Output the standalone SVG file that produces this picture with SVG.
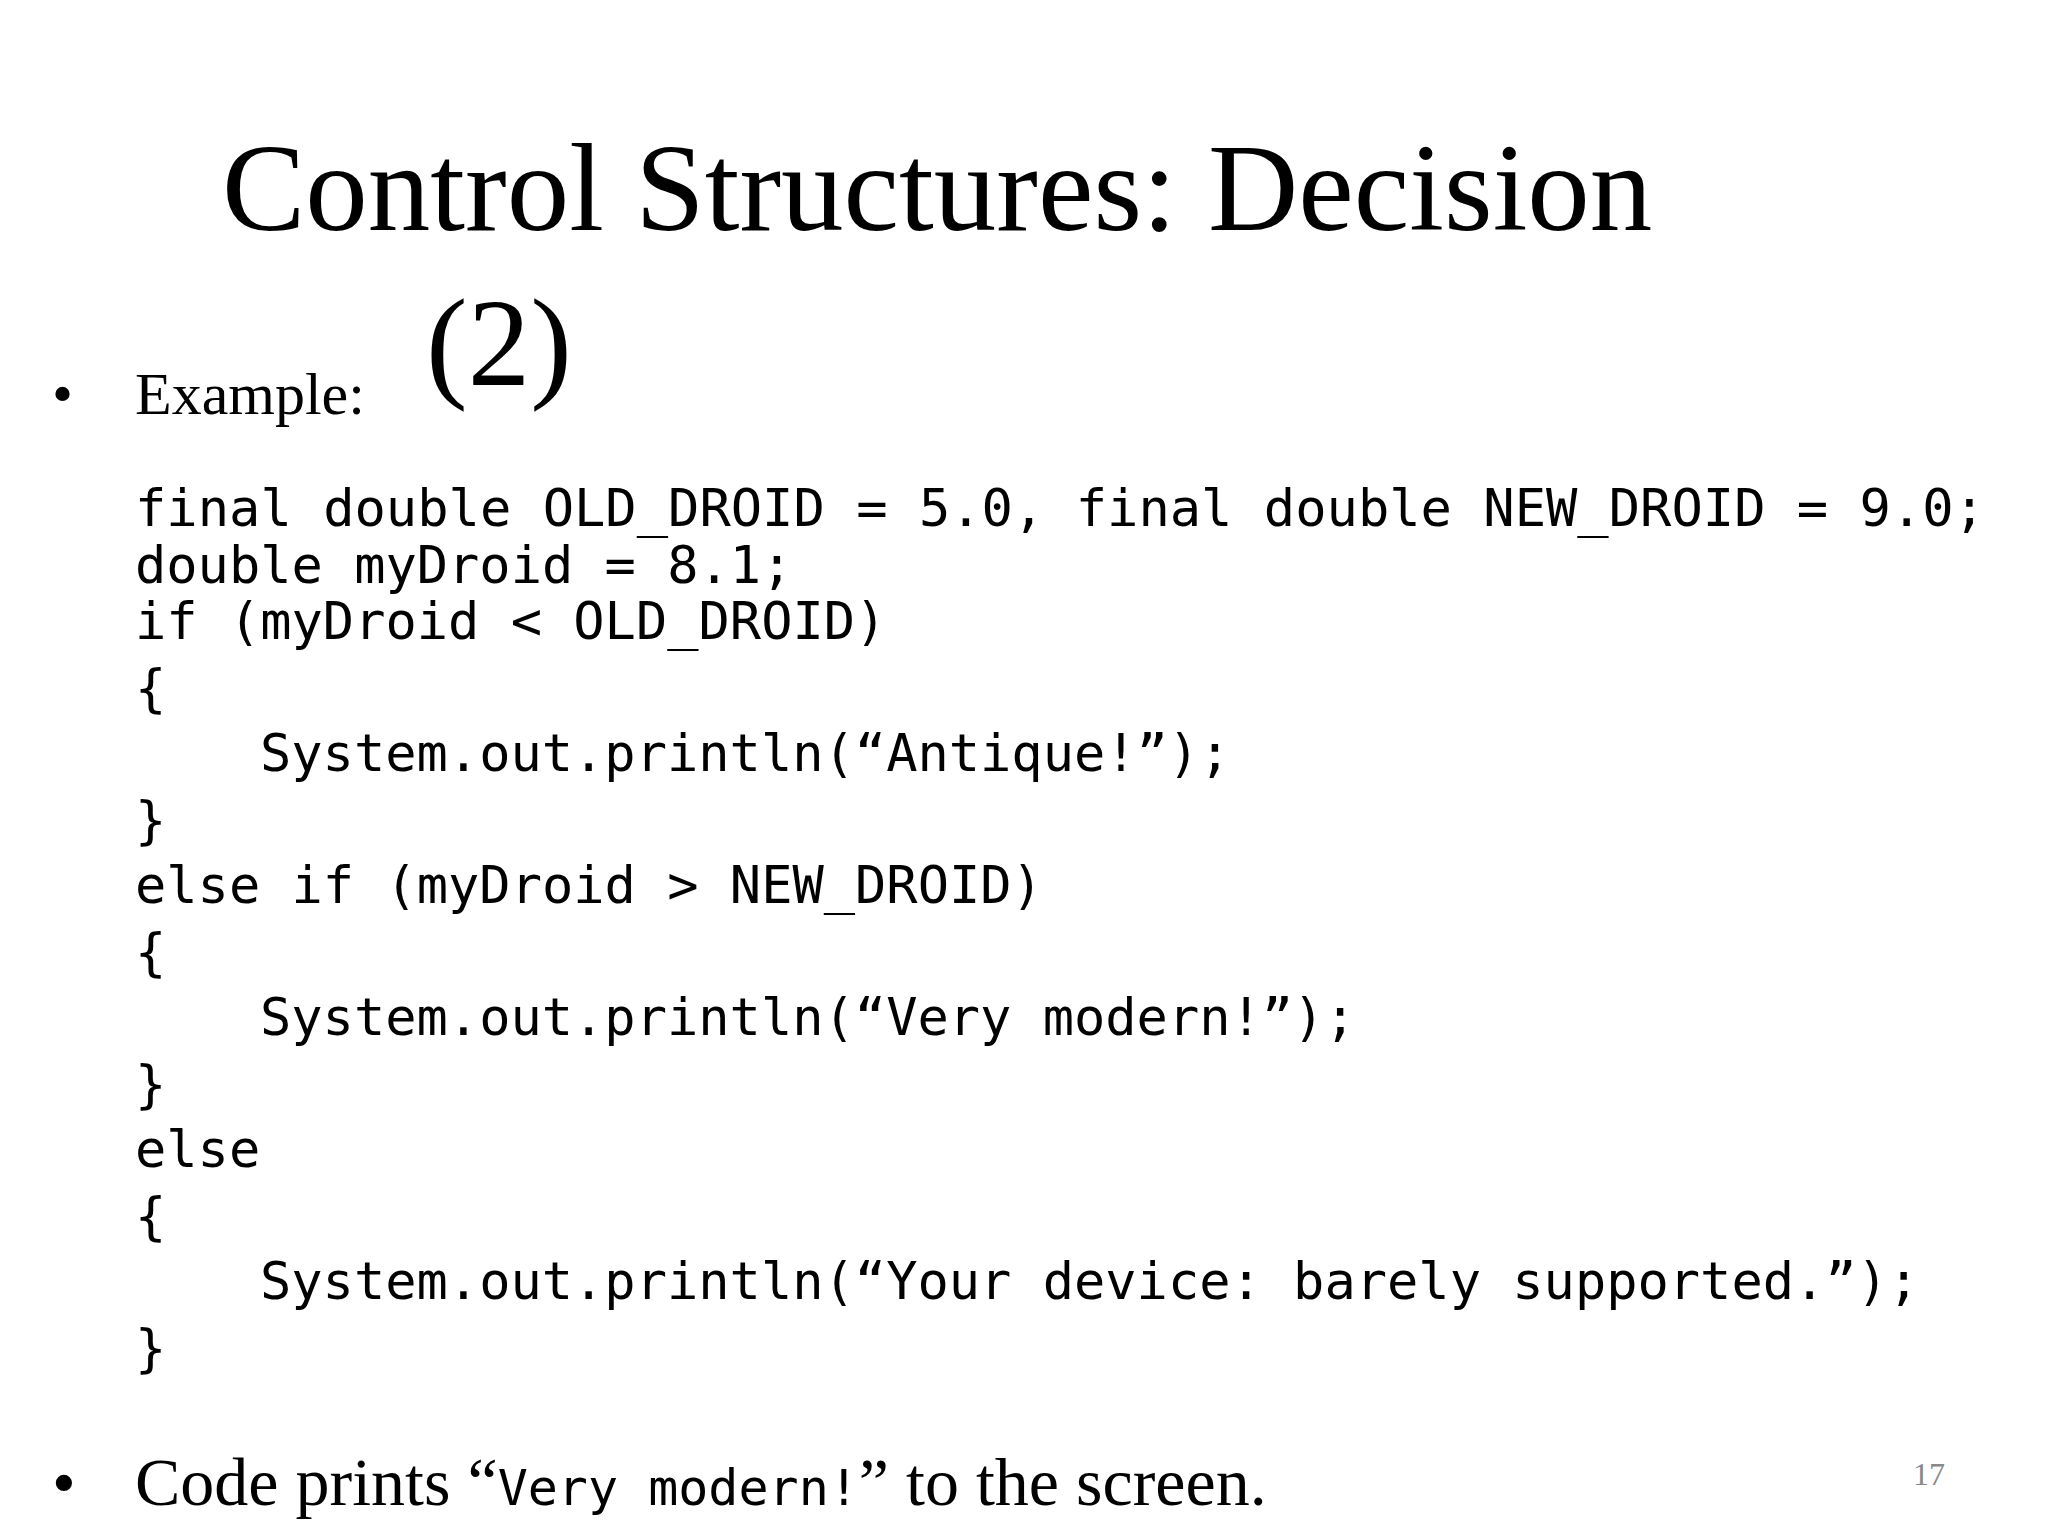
<svg xmlns="http://www.w3.org/2000/svg" width="2048" height="1536" viewBox="0 0 2048 1536">
<style>
.s{font-family:"Liberation Serif","Times New Roman",serif;fill:#000}
.m{font-family:"DejaVu Sans Mono","Liberation Mono",monospace;fill:#000;font-size:52px;white-space:pre}
</style>
<rect width="2048" height="1536" fill="#fff"/>
<g id="title">
<text class="s" x="222" y="230" font-size="125">Control Structures: Decision</text>
<text class="s" x="426" y="385" font-size="125">(2)</text>
</g>
<g id="example">
<text class="s" x="52" y="414" font-size="60">•</text>
<text class="s" x="135" y="414" font-size="60">Example:</text>
</g>
<g id="code">
<text class="m" x="135" y="526" textLength="1850" lengthAdjust="spacingAndGlyphs">final double OLD_DROID = 5.0, final double NEW_DROID = 9.0;</text>
<text class="m" x="135" y="583">double myDroid = 8.1;</text>
<text class="m" x="135" y="639">if (myDroid &lt; OLD_DROID)</text>
<text class="m" x="135" y="706">{</text>
<text class="m" x="260" y="771">System.out.println(“Antique!”);</text>
<text class="m" x="135" y="838">}</text>
<text class="m" x="135" y="903">else if (myDroid &gt; NEW_DROID)</text>
<text class="m" x="135" y="970">{</text>
<text class="m" x="260" y="1035">System.out.println(“Very modern!”);</text>
<text class="m" x="135" y="1102">}</text>
<text class="m" x="135" y="1167">else</text>
<text class="m" x="135" y="1234">{</text>
<text class="m" x="260" y="1299">System.out.println(“Your device: barely supported.”);</text>
<text class="m" x="135" y="1366">}</text>
</g>
<g id="result">
<text class="s" x="52" y="1505" font-size="68">•</text>
<text class="s" x="135" y="1505" font-size="68">Code prints “<tspan font-family="DejaVu Sans Mono, monospace" font-size="50">Very modern!</tspan>” to the screen.</text>
</g>
<text class="s" x="1913" y="1485" font-size="32" style="fill:#888">17</text>
</svg>
